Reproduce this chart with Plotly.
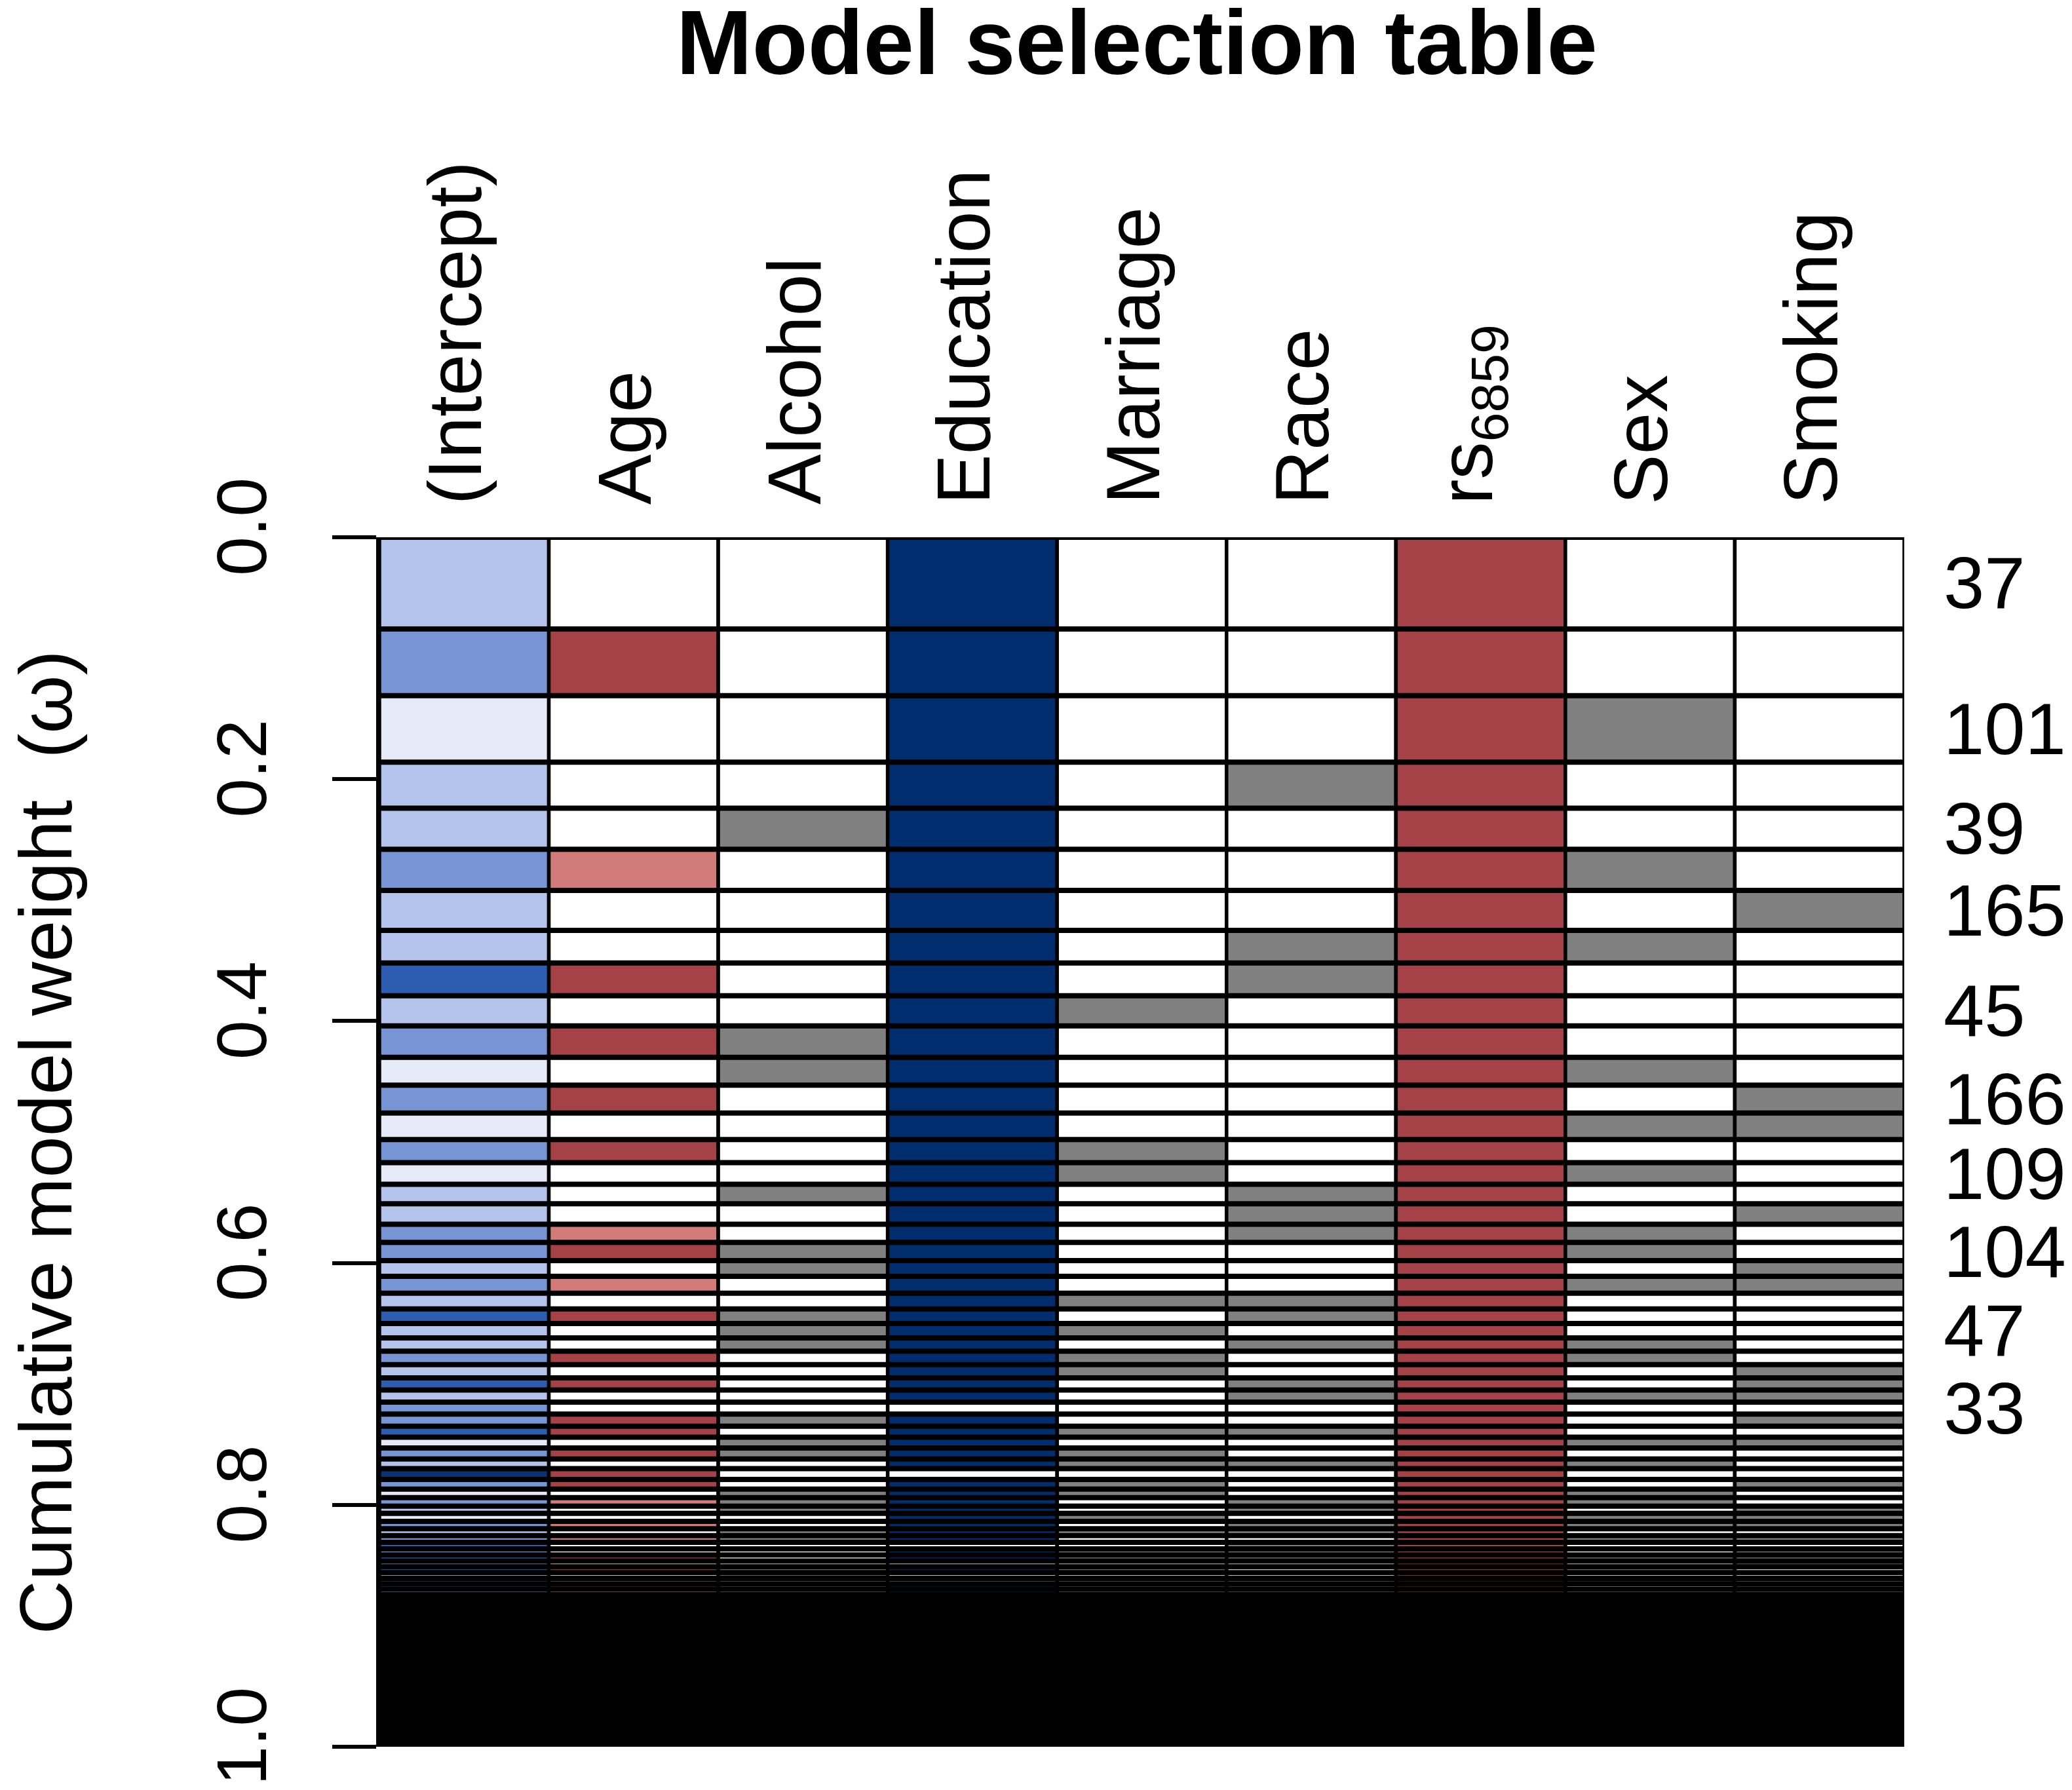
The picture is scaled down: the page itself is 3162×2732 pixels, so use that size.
import plotly.graph_objects as go

# columns of the model selection table
columns = ["(Intercept)", "Age", "Alcohol", "Education", "Marriage", "Race", "rs6859", "Sex", "Smoking"]
header_text = ["(Intercept)", "Age", "Alcohol", "Education", "Marriage", "Race", "rs<sub>6859</sub>", "Sex", "Smoking"]

# cumulative model weight at the end of each model row
cum_weight = [0.0758, 0.131, 0.186, 0.224, 0.258, 0.292, 0.325, 0.352, 0.379, 0.404,
              0.430, 0.453, 0.476, 0.498, 0.517, 0.535, 0.551, 0.568, 0.583, 0.598,
              0.611, 0.625, 0.638, 0.650, 0.662, 0.673, 0.684, 0.695, 0.705, 0.715,
              0.725, 0.735, 0.744, 0.753, 0.762, 0.770, 0.779, 0.787, 0.794, 0.801,
              0.807, 0.8137, 0.8198, 0.8255, 0.831, 0.8364, 0.8414, 0.8464, 0.8512, 0.856,
              0.8608, 0.8653, 0.8697, 0.8743, 0.8787]
# all remaining models are too thin to resolve, they merge into a black block
tail_end = 1.0

# per-model codes, one character per row
# intercept shade: V very light, L light, M medium, S strong, N navy
intercept = "LMVLLMLLSL" "MVMVMVLLMM" "LMLSLLMLSL" "MMSVMLNMVM" "LVMLMSMSMS" "LMSMS"
# age: 0 absent, R positive (dark red), P weaker (pink)
age = "0R000P00R0" "R0R0R000PR" "0P0R00R0R0" "0RR0R0RR0P" "00P0P00R0R" "00RP0"
alcohol = "0000100000" "1100001001" "1001110000" "0101100011" "1001100001" "10111"
education = "1111111111" "1111111111" "1111111111" "0111110111" "1111101101" "00111"
marriage = "0000000001" "0000110000" "0010101100" "0010110110" "0101001101" "00111"
race = "0001000110" "0000001110" "0011010011" "0010010001" "1011011100" "00110"
rs6859 = "1111111111" "1111111111" "1111111111" "1111111111" "1111111111" "11111"
sex = "0010010100" "0101010011" "0100011001" "0001010011" "0110100101" "01010"
smoking = "0000001000" "0011000100" "1100000111" "0101000100" "1110101110" "00111"

# model ids printed on the right (row number -> id)
label_rows = [1, 3, 5, 7, 10, 13, 16, 20, 25, 31]
label_ids = ["37", "101", "39", "165", "45", "166", "109", "104", "47", "33"]

intercept_colors = {"V": "#E6EAF8", "L": "#B4C3EB", "M": "#7794D4", "S": "#2C5DB0", "N": "#0D3270"}
age_colors = {"0": "white", "R": "#A54247", "P": "#D17B7B"}
edu_color = "#002D6E"
rs_color = "#A54247"
gray = "#808080"

term_codes = [intercept, age, alcohol, education, marriage, race, rs6859, sex, smoking]

starts = [0.0] + cum_weight[:-1]
xs, bases, heights, colors = [], [], [], []
for i, (s, e) in enumerate(zip(starts, cum_weight)):
    for j, col in enumerate(columns):
        code = term_codes[j][i]
        if j == 0:
            c = intercept_colors[code]
        elif j == 1:
            c = age_colors[code]
        elif code == "0":
            c = "white"
        elif col == "Education":
            c = edu_color
        elif col == "rs6859":
            c = rs_color
        else:
            c = gray
        xs.append(col)
        bases.append(s)
        heights.append(e - s)
        colors.append(c)

# remaining low-weight models
for col in columns:
    xs.append(col)
    bases.append(cum_weight[-1])
    heights.append(tail_end - cum_weight[-1])
    colors.append("black")

fig = go.Figure(go.Bar(
    x=xs, y=heights, base=bases, width=1,
    marker=dict(color=colors, line=dict(color="black", width=5.5)),
    hoverinfo="skip",
))

# row separators are drawn heavier than the column ones
sep_x, sep_y = [], []
for b in [0.0] + cum_weight:
    sep_x += [-0.5, 8.5, None]
    sep_y += [b, b, None]
fig.add_trace(go.Scatter(
    x=sep_x, y=sep_y, mode="lines", line=dict(color="black", width=8),
    hoverinfo="skip", xaxis="x2",
))

font = "Liberation Sans, Arial, sans-serif"
annotations = []
for j, txt in enumerate(header_text):
    annotations.append(dict(
        x=columns[j], y=0, xref="x", yref="y", text=txt, textangle=-90,
        xanchor="center", yanchor="bottom", yshift=48, xshift=-14, showarrow=False,
        font=dict(family=font, size=115, color="black"),
    ))
for r, mid in zip(label_rows, label_ids):
    s, e = starts[r - 1], cum_weight[r - 1]
    annotations.append(dict(
        x=1, y=(s + e) / 2, xref="paper", yref="y", text=mid,
        xanchor="left", yanchor="middle", xshift=58, showarrow=False,
        font=dict(family=font, size=112, color="black"),
    ))
annotations.append(dict(
    x=0.5, y=1 + 835 / 1846, xref="paper", yref="paper", text="Model selection table",
    xanchor="center", yanchor="top", xshift=-8, showarrow=False,
    font=dict(family=font, size=139, color="black", weight="bold"),
))
annotations.append(dict(
    x=-0.219, y=0.5, xref="paper", yref="paper", text="Cumulative model weight  (ω)",
    textangle=-90, xanchor="center", yanchor="middle", showarrow=False,
    font=dict(family=font, size=114, color="black"),
))

fig.update_layout(
    width=3162, height=2732, autosize=False,
    margin=dict(l=571, r=264, t=812, b=74),
    paper_bgcolor="white", plot_bgcolor="white",
    barmode="overlay", showlegend=False,
    annotations=annotations,
    xaxis=dict(range=[-0.5, 8.5], showticklabels=False, showgrid=False, zeroline=False,
               showline=False, ticks=""),
    xaxis2=dict(range=[-0.5, 8.5], overlaying="x", visible=False),
    yaxis=dict(range=[1, 0], showgrid=False, zeroline=False, showline=True,
               linecolor="black", linewidth=5, ticks="outside", ticklen=67, tickwidth=6,
               tickcolor="black", tickvals=[0, 0.2, 0.4, 0.6, 0.8, 1.0],
               ticktext=["0.0", "0.2", "0.4", "0.6", "0.8", "1.0"], tickangle=-90,
               ticklabelstandoff=58,
               tickfont=dict(family=font, size=108, color="black")),
)

fig.write_html("out.html")
